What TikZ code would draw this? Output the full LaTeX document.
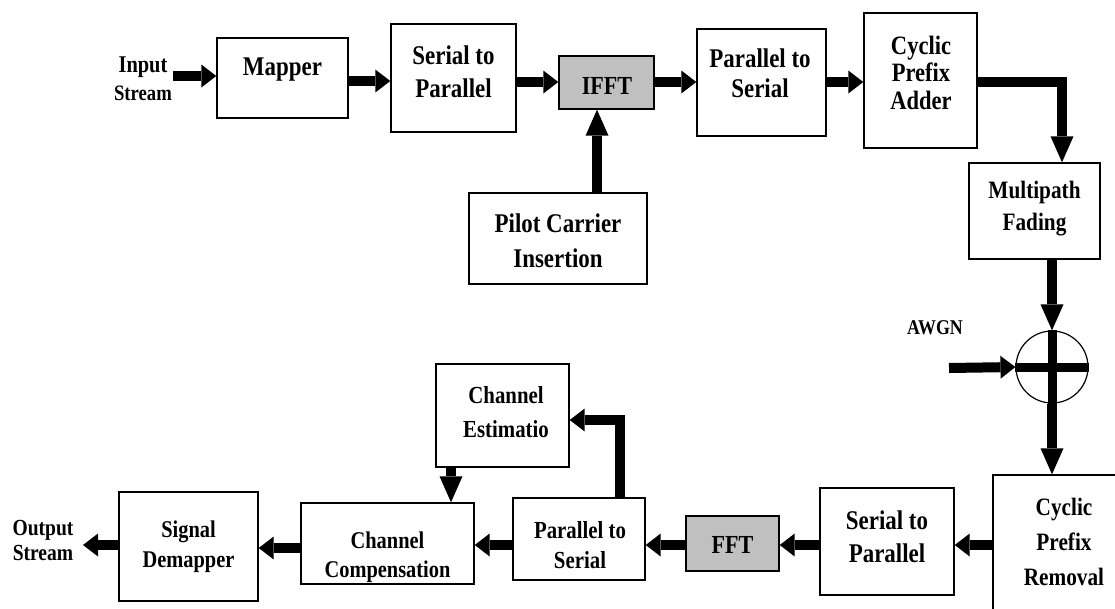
\documentclass[tikz,border=0pt]{standalone}
\usepackage{fontspec}
\setmainfont{Liberation Serif}[FakeStretch=0.85]
\usetikzlibrary{arrows.meta,calc}
\definecolor{boxgray}{RGB}{192,192,192}
\begin{document}
\begin{tikzpicture}[x=1pt,y=-1pt,
  box/.style 2 args={draw, line width=1.4pt, fill=white, inner sep=0pt,
    minimum width=#1pt, minimum height=#2pt},
  graybox/.style={fill=boxgray},
  lbl/.style 2 args={font=\bfseries\fontsize{#1}{#2}\selectfont, align=center, inner sep=0pt},
  arr/.style={line width=10pt, -{Triangle[width=23pt,length=15pt,line width=0pt]}},
  varr/.style={line width=10pt, -{Triangle[width=23pt,length=26pt,line width=0pt]}},
  cross/.style={line width=9pt},
]
\useasboundingbox (0,0) rectangle (1115,608);
\begin{scope}
\clip (0,0) rectangle (1115,608);
% ---------- boxes ----------
\node[box={131}{80}]  (mapper) at (282.5,78)  {};
\node[box={125}{108}] (s2p)    at (453.5,78)  {};
\node[box={95}{53},graybox] (ifft) at (606.5,82.5) {};
\node[box={129}{107}] (p2s)    at (761.5,82.5) {};
\node[box={113}{135}] (cpa)    at (920.5,80.5) {};
\node[box={131}{96}]  (mf)     at (1034.5,211) {};
\node[box={178}{91}]  (pilot)  at (558,238.5)  {};
\node[circle, draw, line width=1.2pt, fill=white, minimum size=72pt, inner sep=0pt] (sum) at (1052,367) {};
\node[box={144}{175}] (cpr)    at (1065,562.5) {};
\node[box={134}{107}] (s2pb)   at (887,541.5)  {};
\node[box={93}{55},graybox] (fft) at (732.5,543.5) {};
\node[box={132}{82}]  (p2sb)   at (579,539)    {};
\node[box={133}{103}] (chest)  at (502.5,415.5) {};
\node[box={173}{81}]  (comp)   at (387.5,543.5) {};
\node[box={139}{109}] (demap)  at (188.5,546.5) {};
% ---------- texts ----------
\node[lbl={24}{28}] (inT) at (143,79) {Input\\\fontsize{22}{28}\selectfont Stream};
\node[lbl={27}{33}] (mapperT) at (282.5,70) {Mapper};
\node[lbl={27}{33}] (s2pT) at (453.5,71.5) {Serial to\\Parallel};
\node[lbl={26}{32}] (ifftT) at (607,86) {IFFT};
\node[lbl={27}{30}] (p2sT) at (760,73) {Parallel to\\Serial};
\node[lbl={26.5}{27.5}] (cpaT) at (921,72.5) {Cyclic\\Prefix\\Adder};
\node[lbl={25}{32}] (mfT) at (1034.5,209) {Multipath\\Fading};
\node[lbl={27}{35}] (pilotT) at (558,240.5) {Pilot Carrier\\Insertion};
\node[lbl={21}{26}] (awgnT) at (935,328) {AWGN};
\node[lbl={25}{35}] (cprT) at (1064,542) {Cyclic\\Prefix\\Removal};
\node[lbl={27}{33}] (s2pbT) at (887,536.5) {Serial to\\Parallel};
\node[lbl={26}{32}] (fftT) at (732.5,545) {FFT};
\node[lbl={24.5}{30}] (p2sbT) at (580,545) {Parallel to\\Serial};
\node[lbl={24.5}{34}] (chestT) at (506,412) {Channel\\Estimatio};
\node[lbl={24}{29}] (compT) at (387.5,557.5) {Channel\\Compensation};
\node[lbl={24}{30}] (demapT) at (188.5,547) {Signal\\Demapper};
\node[lbl={23}{25}] (outT) at (43,540) {Output\\Stream};
% ---------- helper coordinates ----------
\coordinate (rowA) at (0,82);
\coordinate (rowB) at (0,545);
\coordinate (inS) at (173,76);
\coordinate (outE) at (83,545);
\coordinate (awS) at (949,368);
% ---------- top row connectors ----------
\draw[arr] (inS) -- (inS -| mapper.west);
\draw[arr] (mapper.east |- 0,81) -- (s2p.west |- 0,81);
\draw[arr] (s2p.east |- rowA) -- (ifft.west |- rowA);
\draw[arr] (ifft.east |- rowA) -- (p2s.west |- rowA);
\draw[arr] (p2s.east |- rowA) -- (cpa.west |- rowA);
\draw[varr] (cpa.east |- rowA) -| ($(mf.north)+(27.5,0)$);
\draw[varr] ($(pilot.north)+(39,0)$) coordinate (pa) -- (pa |- ifft.south);
% ---------- channel ----------
\draw[varr] (sum.north |- mf.south) -- (sum.north);
\draw[arr] (awS) -- (sum.west);
\draw[cross] (sum.north) -- (sum.south);
\draw[cross] (sum.west) -- (sum.east);
\draw[varr] (sum.south) -- (sum.south |- cpr.north);
% ---------- bottom row connectors ----------
\draw[arr] (cpr.west |- rowB) -- (s2pb.east |- rowB);
\draw[arr] (s2pb.west |- rowB) -- (fft.east |- rowB);
\draw[arr] (fft.west |- rowB) -- (p2sb.east |- rowB);
\draw[arr] (p2sb.west |- rowB) -- (comp.east |- rowB);
\draw[arr] (comp.west |- 0,548) -- (demap.east |- 0,548);
\draw[arr] (demap.west |- rowB) -- (outE);
\draw[arr] ($(p2sb.north)+(41,0)$) |- (chest.east |- 0,420);
\draw[varr] ($(chest.south)+(-51.5,0)$) coordinate (ce) -- (ce |- comp.north);
\end{scope}
\end{tikzpicture}
\end{document}
